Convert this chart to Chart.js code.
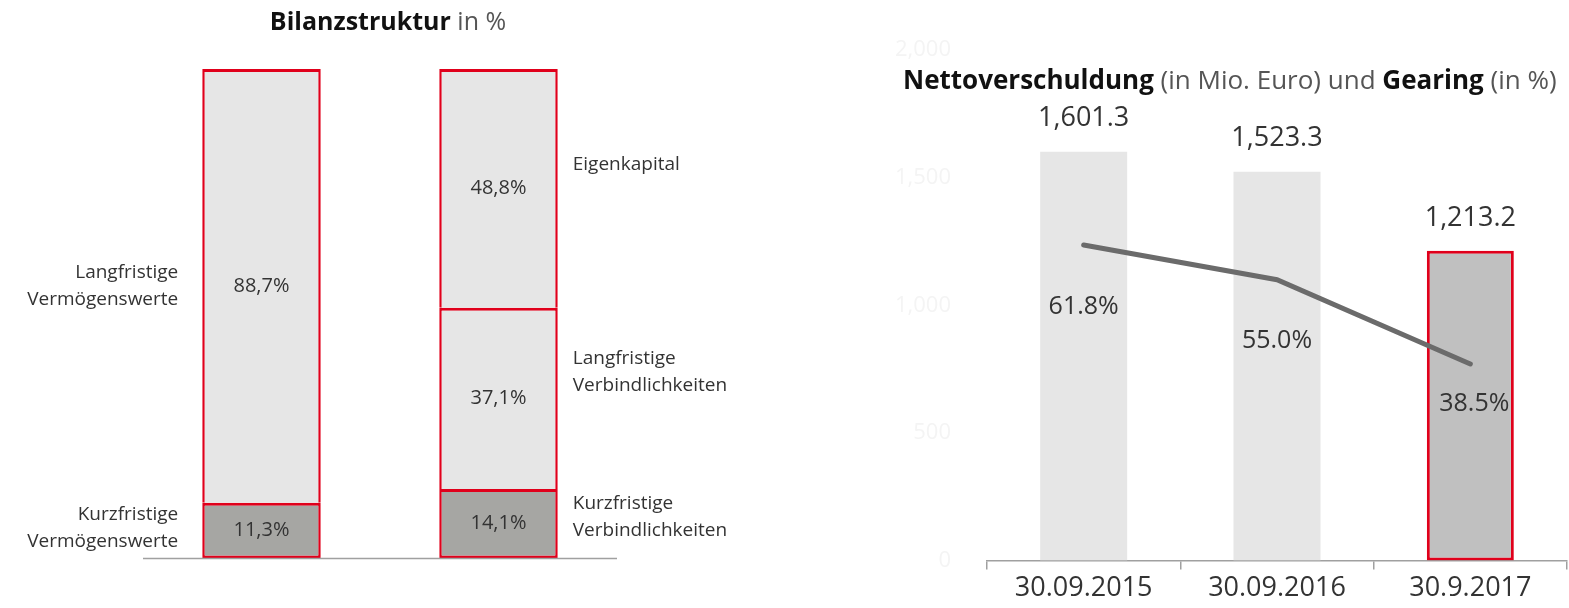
<!DOCTYPE html>
<html><head><meta charset="utf-8">
<script src="https://cdn.jsdelivr.net/npm/chart.js@4"></script>
<style>
html,body{margin:0;padding:0;background:#fff;width:1569px;height:608px;overflow:hidden}
#l{position:absolute;left:0;top:0}
#r{position:absolute;left:880px;top:0}
</style></head><body>
<canvas id="l" width="760" height="608"></canvas>
<canvas id="r" width="689" height="608"></canvas>
<script>
// ---- Left chart data (Bilanzstruktur in %)
const bilanzCategories = ['Aktiva', 'Passiva'];
const kurzfristig = [11.3, 14.1];
const langfristig = [88.7, 37.1];
const eigenkapital = [null, 48.8];
const leftSideLabels = [
  ['Langfristige', 'Vermögenswerte'], ['Kurzfristige', 'Vermögenswerte'],
  ['Eigenkapital'], ['Langfristige', 'Verbindlichkeiten'], ['Kurzfristige', 'Verbindlichkeiten']
];

// ---- Right chart data
const dates = ['30.09.2015', '30.09.2016', '30.9.2017'];
const nettoverschuldung = [1601.3, 1523.3, 1213.2];
const gearing = [61.8, 55.0, 38.5];
const yTicks = [0, 500, 1000, 1500, 2000];

const FONT = "'Open Sans', 'Noto Sans', sans-serif";
const RED = '#e0001b';
const TXT = '#333333';

function fmtDE(v){ return v.toFixed(1).replace('.', ',') + '%'; }
function fmtEN(v){ return v.toLocaleString('en-US', {minimumFractionDigits:1, maximumFractionDigits:1}); }

function drawRich(ctx, parts, x, y, align, size){
  let total = 0;
  parts.forEach(p => { ctx.font = (p.bold ? '700 ' : '400 ') + size + 'px ' + FONT; p.w = ctx.measureText(p.t).width; total += p.w; });
  let cx = align === 'center' ? x - total/2 : x;
  ctx.textAlign = 'left'; ctx.textBaseline = 'middle';
  parts.forEach(p => { ctx.font = (p.bold ? '700 ' : '400 ') + size + 'px ' + FONT; ctx.fillStyle = p.bold ? '#111' : '#555'; ctx.fillText(p.t, cx, y); cx += p.w; });
}

const leftPlugin = {
  id: 'leftDeco',
  afterDatasetsDraw(chart){
    const ctx = chart.ctx, ca = chart.chartArea;
    ctx.save();
    // baseline
    ctx.strokeStyle = '#a0a0a0'; ctx.lineWidth = 1.5;
    ctx.beginPath(); ctx.moveTo(ca.left, ca.bottom + 0.5); ctx.lineTo(ca.right, ca.bottom + 0.5); ctx.stroke();
    // value labels inside segments
    ctx.fillStyle = TXT; ctx.font = '400 20px ' + FONT; ctx.textAlign = 'center'; ctx.textBaseline = 'middle';
    chart.data.datasets.forEach((ds, di) => {
      chart.getDatasetMeta(di).data.forEach((bar, i) => {
        const v = ds.data[i]; if (v == null) return;
        const mid = (bar.y + bar.base) / 2;
        ctx.fillText(fmtDE(v), bar.x, mid);
      });
    });
    // side labels
    ctx.font = '400 19px ' + FONT;
    const m0k = chart.getDatasetMeta(0).data[0], m1l = chart.getDatasetMeta(1).data[0];
    const m0k2 = chart.getDatasetMeta(0).data[1], m1l2 = chart.getDatasetMeta(1).data[1], m2e = chart.getDatasetMeta(2).data[1];
    const lx = m0k.x - m0k.width/2 - 24, rx = m0k2.x + m0k2.width/2 + 15;
    function lines(arr, x, y, align){
      ctx.textAlign = align;
      const lh = 27, y0 = y - (arr.length - 1) * lh / 2;
      arr.forEach((s, k) => ctx.fillText(s, x, y0 + k * lh));
    }
    lines(leftSideLabels[0], lx, (m1l.y + m1l.base)/2, 'right');
    lines(leftSideLabels[1], lx, (m0k.y + m0k.base)/2 - 2, 'right');
    lines(leftSideLabels[2], rx, (m2e.y + m2e.base)/2 - 24, 'left');
    lines(leftSideLabels[3], rx, (m1l2.y + m1l2.base)/2 - 26, 'left');
    lines(leftSideLabels[4], rx, (m0k2.y + m0k2.base)/2 - 6, 'left');
    // title
    drawRich(ctx, [{t:'Bilanzstruktur', bold:true}, {t:' in %', bold:false}], 388, 23, 'center', 25);
    ctx.restore();
  }
};

const topBorder = {top: 3, left: 2.5, right: 2.5, bottom: 0};
new Chart(document.getElementById('l'), {
  type: 'bar',
  data: {
    labels: bilanzCategories,
    datasets: [
      {data: kurzfristig, backgroundColor: '#a6a6a3', borderColor: RED, borderWidth: {top: 3, left: 2.5, right: 2.5, bottom: 2.5}, borderSkipped: false, inflateAmount: 0},
      {data: langfristig, backgroundColor: '#e6e6e6', borderColor: RED, borderWidth: topBorder, borderSkipped: false, inflateAmount: 0},
      {data: eigenkapital, backgroundColor: '#e6e6e6', borderColor: RED, borderWidth: topBorder, borderSkipped: false, inflateAmount: 0}
    ]
  },
  options: {
    responsive: false, animation: false,
    layout: {padding: {left: 143, right: 143, top: 69, bottom: 50}},
    plugins: {legend: {display: false}, tooltip: {enabled: false}},
    datasets: {bar: {categoryPercentage: 0.5, barPercentage: 1}},
    scales: {
      x: {display: false, stacked: true},
      y: {display: false, stacked: true, min: 0, max: 100}
    }
  },
  plugins: [leftPlugin]
});

const rightPlugin = {
  id: 'rightDeco',
  afterDatasetsDraw(chart){
    const ctx = chart.ctx;
    ctx.save();
    ctx.fillStyle = TXT; ctx.font = '400 27px ' + FONT; ctx.textAlign = 'center'; ctx.textBaseline = 'middle';
    chart.getDatasetMeta(1).data.forEach((bar, i) => {
      ctx.fillText(fmtEN(nettoverschuldung[i]), bar.x, bar.y - 33);
    });
    ctx.font = '400 25px ' + FONT;
    const offs = [62, 61, 40];
    chart.getDatasetMeta(0).data.forEach((pt, i) => {
      ctx.fillText(gearing[i].toFixed(1) + '%', pt.x + (i === 2 ? 4 : 0), pt.y + offs[i]);
    });
    drawRich(ctx, [{t:'Nettoverschuldung', bold:true}, {t:' (in Mio. Euro) und ', bold:false}, {t:'Gearing', bold:true}, {t:' (in %)', bold:false}], 23, 82, 'left', 26);
    ctx.restore();
  }
};

new Chart(document.getElementById('r'), {
  type: 'bar',
  data: {
    labels: dates,
    datasets: [
      {type: 'line', data: gearing, yAxisID: 'y2', borderColor: '#6b6b6b', borderWidth: 5, pointRadius: 0, tension: 0, order: 0, borderCapStyle: 'round'},
      {type: 'bar', data: nettoverschuldung, yAxisID: 'y', order: 1,
       backgroundColor: ['#e6e6e6', '#e6e6e6', '#c0c0c0'], borderColor: ['rgba(0,0,0,0)', 'rgba(0,0,0,0)', RED],
       borderWidth: [0, 0, 3], borderSkipped: false, categoryPercentage: 1, barPercentage: 0.45}
    ]
  },
  options: {
    responsive: false, animation: false,
    layout: {padding: {left: 0, right: 2, top: 50, bottom: 0}},
    plugins: {legend: {display: false}, tooltip: {enabled: false}},
    scales: {
      x: {
        grid: {display: true, drawOnChartArea: false, drawTicks: true, tickLength: 9, color: '#a0a0a0', lineWidth: 1.5, offset: true},
        border: {display: true, color: '#a0a0a0', width: 1.5},
        ticks: {color: TXT, font: {family: FONT, size: 27}, padding: 3}
      },
      y: {
        min: 0, max: 2000, position: 'left',
        afterBuildTicks: s => { s.ticks = yTicks.map(v => ({value: v})); },
        afterFit: s => { s.width = 107; },
        grid: {display: false}, border: {display: false},
        ticks: {color: '#f4f4f4', font: {family: FONT, size: 22}, padding: 28,
                callback: v => v.toLocaleString('en-US')}
      },
      y2: {display: false, min: 0, max: 100}
    }
  },
  plugins: [rightPlugin]
});
</script>
</body></html>
